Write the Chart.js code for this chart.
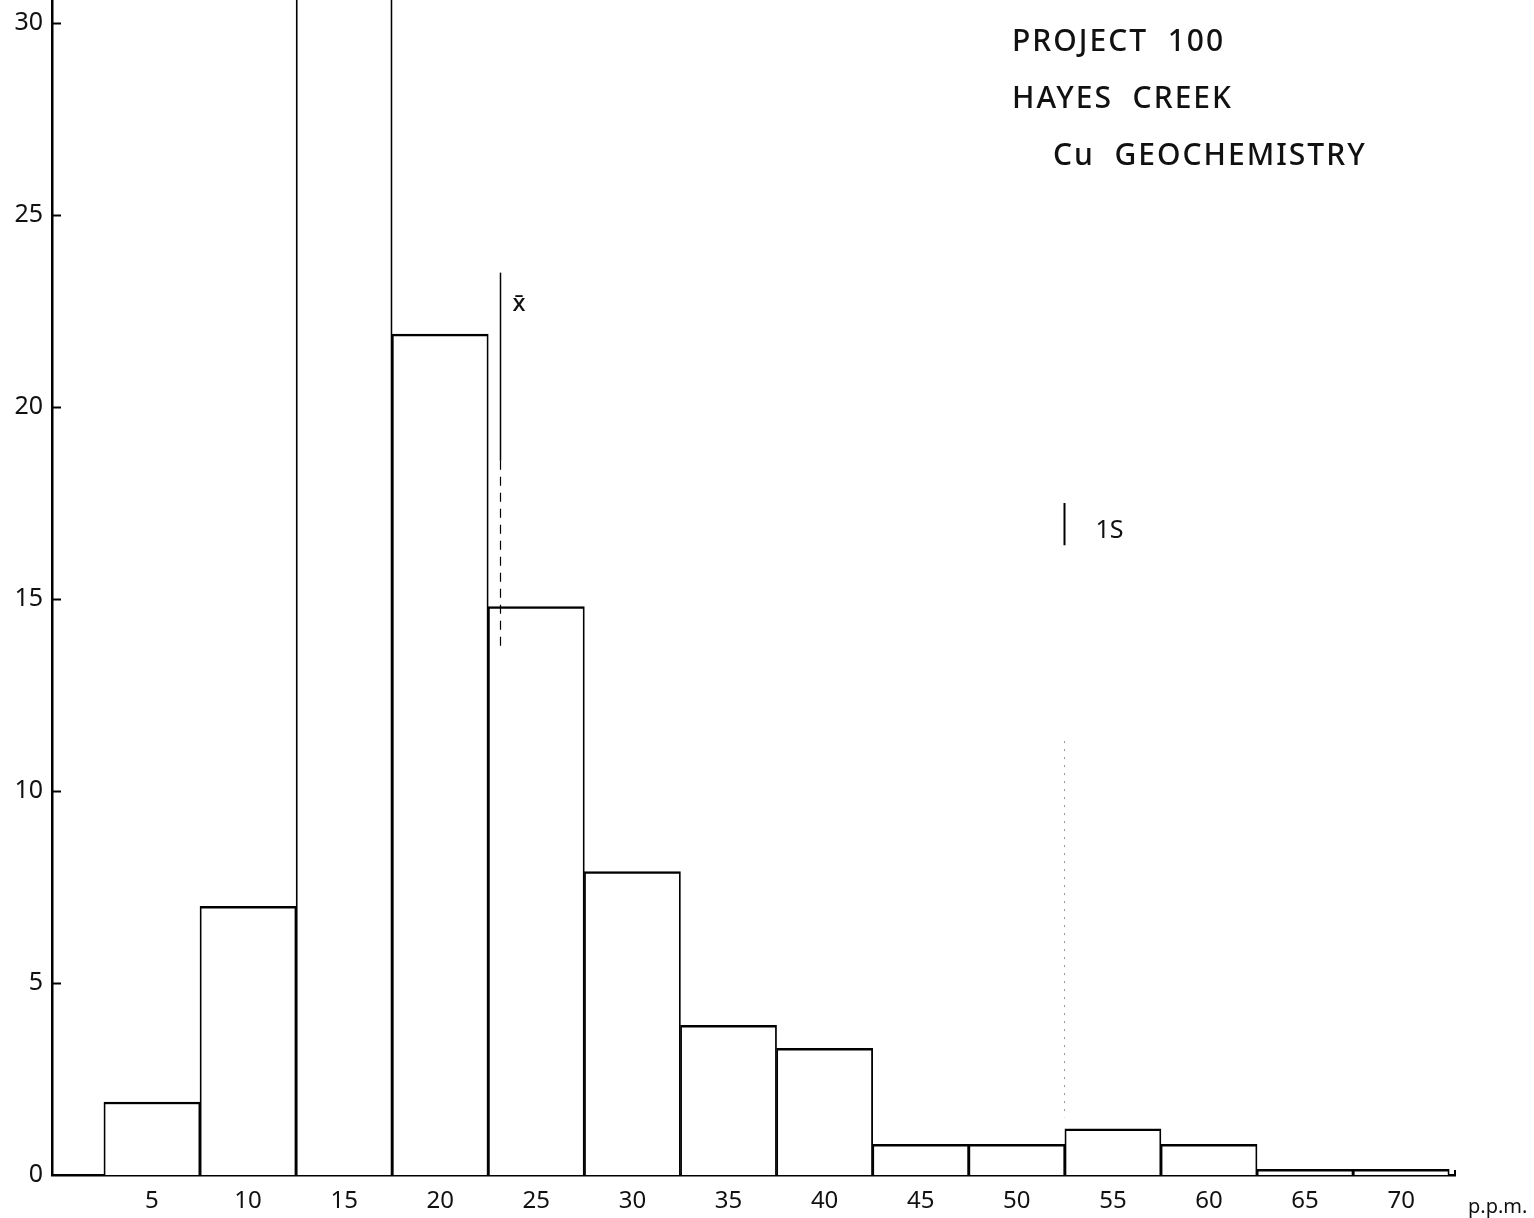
<!DOCTYPE html>
<html><head><meta charset="utf-8">
<script src="https://cdn.jsdelivr.net/npm/chart.js@4.4.1/dist/chart.umd.min.js"></script>
<style>html,body{margin:0;padding:0;background:#fff}#wrap{width:1534px;height:1218px;position:relative}</style>
</head><body><div id="wrap"><canvas id="c" width="1534" height="1218"></canvas></div>
<script>
// ---- data ----
const binCenters = [5, 10, 15, 20, 25, 30, 35, 40, 45, 50, 55, 60, 65, 70];
const percentValues = [1.9, 7.0, 33, 21.9, 14.8, 7.9, 3.9, 3.3, 0.8, 0.8, 1.2, 0.8, 0.15, 0.15];
const xTickValues = [5, 10, 15, 20, 25, 30, 35, 40, 45, 50, 55, 60, 65, 70];
const yTickValues = [0, 5, 10, 15, 20, 25, 30];
const meanValue = 23.1;      // x-bar (ppm)
const oneSValue = 52.5;      // mean + 1 S (ppm)
const titleLines = ['PROJECT  100', 'HAYES  CREEK', 'Cu  GEOCHEMISTRY'];
const unitLabel = 'p.p.m.';
const meanLabel = 'x\u0304';
const oneSLabel = '1S';

const FONT = '"Noto Sans", "DejaVu Sans", sans-serif';

const overlay = {
  id: 'overlay',
  afterDraw(chart) {
    const ctx = chart.ctx, xs = chart.scales.x, ys = chart.scales.y, a = chart.chartArea;
    ctx.save();
    ctx.strokeStyle = '#000';
    ctx.fillStyle = '#111';
    // inward y-axis ticks
    ctx.lineWidth = 2;
    yTickValues.forEach(v => {
      if (v === 0) return;
      const y = Math.round(ys.getPixelForValue(v)) + 0.5;
      ctx.beginPath(); ctx.moveTo(a.left, y); ctx.lineTo(a.left + 9, y); ctx.stroke();
    });
    // small end tick of x axis
    ctx.beginPath(); ctx.moveTo(a.right, a.bottom); ctx.lineTo(a.right, a.bottom - 5); ctx.stroke();

    // mean line
    const mx = Math.round(xs.getPixelForValue(meanValue)) + 0.5;
    ctx.lineWidth = 1.5;
    ctx.beginPath(); ctx.moveTo(mx, ys.getPixelForValue(23.5)); ctx.lineTo(mx, ys.getPixelForValue(18.6)); ctx.stroke();
    ctx.setLineDash([9, 7]);
    ctx.lineWidth = 1.2;
    ctx.beginPath(); ctx.moveTo(mx, ys.getPixelForValue(18.6)); ctx.lineTo(mx, ys.getPixelForValue(13.7)); ctx.stroke();
    ctx.setLineDash([]);
    ctx.font = '500 24px ' + FONT;
    ctx.textAlign = 'left'; ctx.textBaseline = 'alphabetic';
    ctx.fillText(meanLabel, mx + 12, ys.getPixelForValue(22.5));

    // 1S line
    const sx = Math.round(xs.getPixelForValue(oneSValue)) - 0.5;
    ctx.lineWidth = 2;
    ctx.beginPath(); ctx.moveTo(sx, ys.getPixelForValue(17.5)); ctx.lineTo(sx, ys.getPixelForValue(16.4)); ctx.stroke();
    ctx.strokeStyle = '#999';
    ctx.lineWidth = 1;
    ctx.setLineDash([2, 6]);
    ctx.beginPath(); ctx.moveTo(sx, ys.getPixelForValue(11.3)); ctx.lineTo(sx, ys.getPixelForValue(1.5)); ctx.stroke();
    ctx.setLineDash([]);
    ctx.font = '25px ' + FONT;
    ctx.fillText(oneSLabel, sx + 31, ys.getPixelForValue(16.6));

    // title block
    ctx.font = '500 30px ' + FONT;
    ctx.letterSpacing = '2px';
    ctx.fillText(titleLines[0], 1012, 51);
    ctx.fillText(titleLines[1], 1012, 108);
    ctx.fillText(titleLines[2], 1053, 165);
    ctx.letterSpacing = '0px';

    // unit label
    ctx.font = '20px ' + FONT;
    ctx.fillText(unitLabel, 1468, 1213);
    ctx.restore();
  }
};

function noPad(s) { s.paddingTop = 0; s.paddingBottom = 0; s.paddingLeft = 0; s.paddingRight = 0; }

new Chart(document.getElementById('c'), {
  type: 'bar',
  data: {
    datasets: [{
      data: binCenters.map((x, i) => ({ x: x, y: percentValues[i] })),
      backgroundColor: '#fff',
      borderColor: '#000',
      borderWidth: { top: 2.5, left: 1.8, right: 1.8, bottom: 0 },
      borderSkipped: false,
      barPercentage: 1,
      categoryPercentage: 1
    }]
  },
  options: {
    responsive: false,
    animation: false,
    devicePixelRatio: 1,
    layout: { padding: { top: 0, right: 79, bottom: 0, left: 0 } },
    plugins: { legend: { display: false }, tooltip: { enabled: false }, title: { display: false } },
    scales: {
      x: {
        type: 'linear',
        offset: false,
        min: -0.2,
        max: 72.8,
        afterBuildTicks: s => { s.ticks = xTickValues.map(v => ({ value: v })); },
        afterFit: s => { s.height = 43; noPad(s); },
        grid: { display: false, drawTicks: false, offset: false },
        border: { display: true, color: '#000', width: 2.5 },
        ticks: { color: '#111', font: { family: FONT, size: 24 }, padding: 12, maxRotation: 0, autoSkip: false }
      },
      y: {
        type: 'linear',
        min: 0,
        max: 30.6,
        afterBuildTicks: s => { s.ticks = yTickValues.map(v => ({ value: v })); },
        afterFit: s => { s.width = 52; noPad(s); },
        grid: { display: false, drawTicks: false },
        border: { display: true, color: '#000', width: 2.5 },
        ticks: { color: '#111', font: { family: FONT, size: 25 }, padding: 9 }
      }
    }
  },
  plugins: [overlay]
});
</script>
</body></html>
